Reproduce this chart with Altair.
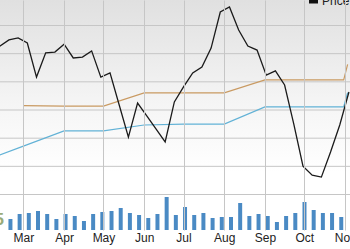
import altair as alt
import pandas as pd

# ---------------- data ----------------
week_dates = ["2019-02-11", "2019-02-18", "2019-02-25", "2019-03-04", "2019-03-11",
              "2019-03-18", "2019-03-25", "2019-04-01", "2019-04-08", "2019-04-15",
              "2019-04-22", "2019-04-29", "2019-05-06", "2019-05-13", "2019-05-20",
              "2019-05-27", "2019-06-03", "2019-06-10", "2019-06-17", "2019-06-24",
              "2019-07-01", "2019-07-08", "2019-07-15", "2019-07-22", "2019-07-29",
              "2019-08-05", "2019-08-12", "2019-08-19", "2019-08-26", "2019-09-02",
              "2019-09-09", "2019-09-16", "2019-09-23", "2019-09-30", "2019-10-07",
              "2019-10-14", "2019-10-21", "2019-10-28", "2019-11-04"]
price = [25.25, 25.47, 25.54, 25.36, 24.15, 25.01, 25.04, 25.32, 24.83, 24.86,
         25.08, 24.15, 24.30, 23.16, 22.02, 23.23, 22.77, 22.31, 21.85, 23.27,
         23.80, 24.30, 24.51, 25.18, 26.46, 26.64, 25.82, 25.25, 25.11, 24.22,
         24.37, 23.87, 22.48, 20.99, 20.67, 20.60, 21.49, 22.45, 23.62]

vol_dates = week_dates[1:38]
volume = [1.1, 1.6, 1.7, 1.9, 1.6, 1.1, 1.6, 1.4, 0.9, 1.6,
          1.8, 1.9, 2.2, 1.7, 1.5, 1.2, 1.6, 3.3, 1.5, 2.3,
          1.5, 1.7, 1.2, 1.3, 1.3, 2.7, 1.4, 1.6, 1.4, 0.8,
          1.4, 1.7, 2.8, 2.0, 1.7, 1.7, 1.3]

orange_dates = ["2019-03-01", "2019-04-01", "2019-05-01", "2019-06-01", "2019-07-01",
                "2019-08-01", "2019-09-01", "2019-10-01", "2019-10-31", "2019-11-03"]
orange_vals = [23.14, 23.12, 23.12, 23.59, 23.59, 23.59, 24.05, 24.05, 24.05, 24.60]

blue_dates = ["2019-02-01", "2019-03-01", "2019-04-01", "2019-05-01", "2019-06-01",
              "2019-07-01", "2019-08-01", "2019-09-01", "2019-10-01", "2019-10-31",
              "2019-11-03"]
blue_vals = [21.21, 21.70, 22.24, 22.24, 22.45, 22.48, 22.48, 23.09, 23.09, 23.09, 23.60]

month_ticks = [3, 4, 5, 6, 7, 8, 9, 10, 11]
price_ticks = [20, 21, 22, 23, 24, 25, 26]

price_df = pd.DataFrame({"date": week_dates, "v": price})
vol_df = pd.DataFrame({"date": vol_dates, "vol": volume})
orange_df = pd.DataFrame({"date": orange_dates, "v": orange_vals})
blue_df = pd.DataFrame({"date": blue_dates, "v": blue_vals})
ptick_df = pd.DataFrame({"t": price_ticks})
one = pd.DataFrame({"a": [0]})

# ---------------- scales / axes ----------------
GRID = "#c6c6c6"
FONT = "Liberation Sans"

x_scale = alt.Scale(type="utc", nice=False,
                    domain=[alt.DateTime(year=2019, month=2, date=15, utc=True),
                            alt.DateTime(year=2019, month=11, date=1, utc=True)])
x_axis = alt.Axis(values=[alt.DateTime(year=2019, month=m, date=1, utc=True) for m in month_ticks],
                  labelExpr="utcFormat(datum.value, '%b')",
                  title=None, domain=False, ticks=False,
                  grid=True, gridColor=GRID, gridWidth=1, zindex=1,
                  labelFont=FONT, labelFontSize=12,
                  labelColor="#222222", labelPadding=2, labelFlush=False,
                  labelOverlap=False, labelBound=False)

y_scale = alt.Scale(domain=[18.722, 26.887], nice=False, zero=False)

X = alt.X("date:T", scale=x_scale, axis=x_axis)

grad = alt.LinearGradient(
    gradient="linear", x1=0, x2=0, y1=0, y2=1,
    stops=[alt.GradientStop(color="#e0e0e0", offset=0),
           alt.GradientStop(color="#f5f5f5", offset=0.45),
           alt.GradientStop(color="#ffffff", offset=0.75),
           alt.GradientStop(color="#ffffff", offset=1)])

bg = alt.Chart(one).mark_rect(color=grad).encode(
    x=alt.value(0), x2=alt.value(350), y=alt.value(0), y2=alt.value(230))

hgrid = alt.Chart(ptick_df).mark_rule(color=GRID, strokeWidth=1, yOffset=0.5).encode(
    y=alt.Y("t:Q", scale=y_scale, axis=None), x=alt.value(0), x2=alt.value(350))

bars = alt.Chart(vol_df).mark_bar(color="#4a8ac4", size=4, xOffset=1.5, clip=True).encode(
    x=X,
    y=alt.Y("vol:Q", scale=alt.Scale(domain=[0, 23], nice=False), axis=None),
)

orange = alt.Chart(orange_df).mark_line(color="#c99a62", strokeWidth=1.2, clip=True).encode(
    x=X, y=alt.Y("v:Q", scale=y_scale, axis=None))
blue = alt.Chart(blue_df).mark_line(color="#62b2d6", strokeWidth=1.2, clip=True).encode(
    x=X, y=alt.Y("v:Q", scale=y_scale, axis=None))
price_line = alt.Chart(price_df).mark_line(color="#1a1a1a", strokeWidth=1.3, clip=True).encode(
    x=X, y=alt.Y("v:Q", scale=y_scale, axis=None))

legend_sq = alt.Chart(one).mark_rect(color="#111111").encode(
    x=alt.value(309), x2=alt.value(318), y=alt.value(-6), y2=alt.value(3.5))
legend_txt = alt.Chart(one).mark_text(align="left", baseline="alphabetic", fontSize=12,
                                      font=FONT, color="#222222").encode(
    x=alt.value(322), y=alt.value(5), text=alt.value("Price"))
logo_txt = alt.Chart(one).mark_text(align="right", baseline="alphabetic", fontSize=17,
                                    fontWeight="bold", font=FONT, color="#9aab78").encode(
    x=alt.value(4), y=alt.value(225), text=alt.value("5"))

chart = alt.layer(bg, hgrid, bars, orange, blue, price_line,
                  legend_sq, legend_txt, logo_txt).resolve_scale(
    y="independent"
).properties(
    width=350, height=230,
    padding={"left": 0, "right": 0, "top": 0, "bottom": 19},
    autosize=alt.AutoSizeParams(type="none"),
    background="#ffffff"
).configure_view(stroke=None)

chart.save("out.html", embed_options={"renderer": "svg", "actions": False})
